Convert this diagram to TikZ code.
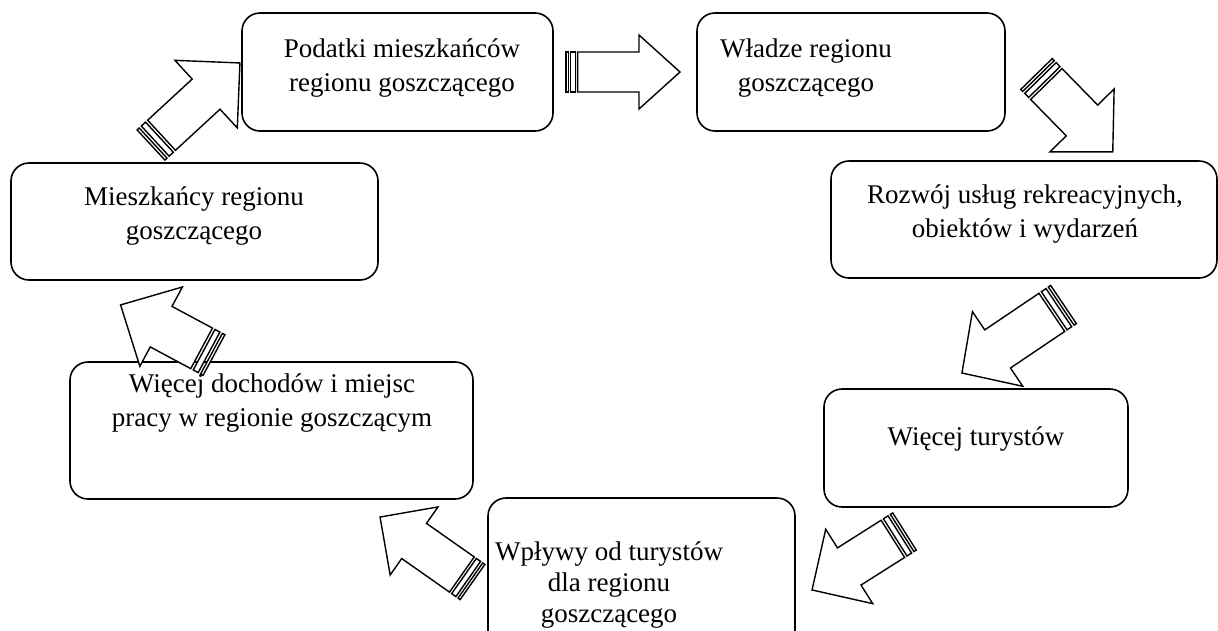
\documentclass[tikz,border=0pt]{standalone}
\usepackage{fontspec}
\setmainfont{Liberation Serif}
% striped block arrow: tail at #2, pointing along angle #3
% #4 length, #5 head half-width, #6 head length, #7 body half-width
\newcommand\stripedarrow[7]{%
  \begin{scope}[shift={#2}, rotate=#3]
    \coordinate (#1) at (0,0);
    \pgfmathsetmacro\saA{#5/16}
    \pgfmathsetmacro\saB{#5/8}
    \pgfmathsetmacro\saC{#5/4}
    \pgfmathsetmacro\saD{5*#5/16}
    \pgfmathsetmacro\saE{#4-#6}
    \draw[blockarrow] (0,-#7) rectangle (\saA,#7);
    \draw[blockarrow] (\saB,-#7) rectangle (\saC,#7);
    \draw[blockarrow] (\saD,-#7) -- (\saE,-#7) -- (\saE,-#5) -- (#4,0)
      -- (\saE,#5) -- (\saE,#7) -- (\saD,#7) -- cycle;
  \end{scope}}
\begin{document}
\begin{tikzpicture}[x=1pt,y=1pt,
  stage/.style={draw=black, line width=1.6pt, rounded corners=18pt, fill=white,
    inner sep=0pt, shape=rectangle},
  caption/.style={align=center, font=\fontsize{27}{34}\selectfont, inner sep=0pt, anchor=base},
  blockarrow/.style={draw=black, line width=1.4pt, fill=white, line join=miter}]
\useasboundingbox (0,0) rectangle (1218,-630);
\clip (0,0) rectangle (1218,-630);

% stages of the cycle
\node[stage, minimum width=311pt, minimum height=118pt] (A) at (397.5,-72) {};
\node[stage, minimum width=308pt, minimum height=118pt] (B) at (851,-72) {};
\node[stage, minimum width=386pt, minimum height=117pt] (C) at (1024,-219.5) {};
\node[stage, minimum width=304pt, minimum height=118pt] (D) at (976,-448) {};
\node[stage, minimum width=307pt, minimum height=152pt] (E) at (641.5,-574) {};
\node[stage, minimum width=403pt, minimum height=137pt] (F) at (271.5,-430.5) {};
\node[stage, minimum width=367pt, minimum height=117pt] (G) at (194.5,-221.5) {};

% captions, placed by the baseline of their last line
\node[caption] (tA) at (402,-91) {Podatki mieszkańców\\regionu goszczącego};
\node[caption] (tB) at (806,-91) {Władze regionu\\goszczącego};
\node[caption] (tC) at (1025,-237) {Rozwój usług rekreacyjnych,\\obiektów i wydarzeń};
\node[caption] (tD) at (976,-445) {Więcej turystów};
\node[caption, font=\fontsize{27}{31}\selectfont] (tE) at (609,-622) {Wpływy od turystów\\dla regionu\\goszczącego};
\node[caption] (tF) at (272,-426) {Więcej dochodów i miejsc\\pracy w regionie goszczącym};
\node[caption] (tG) at (194,-239) {Mieszkańcy regionu\\goszczącego};

% arrows between the stages
\stripedarrow{aAB}{(566,-72)}{0}{114}{37}{41}{20}
\stripedarrow{aBC}{(1036.5,-74)}{-45.6}{109}{45}{44}{22}
\stripedarrow{aCD}{(1063.5,-304.5)}{214}{122.5}{45}{43}{23}
\stripedarrow{aDE}{(904.5,-531.5)}{212.3}{109.4}{44}{44}{22}
\stripedarrow{aEF}{(472.5,-582)}{144.9}{113}{41.6}{41.6}{21.5}
\stripedarrow{aFG}{(214,-355)}{151.8}{106}{45}{46}{23}
\stripedarrow{aGA}{(151,-145)}{42.7}{121}{46}{46}{20.5}
\end{tikzpicture}
\end{document}
